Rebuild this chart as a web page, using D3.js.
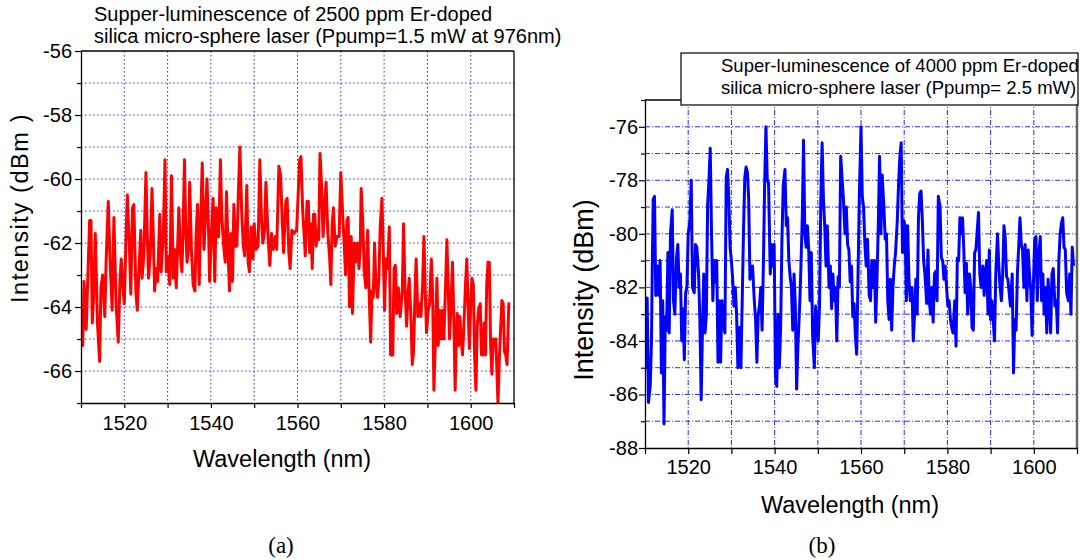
<!DOCTYPE html>
<html>
<head>
<meta charset="utf-8">
<script src="https://cdn.jsdelivr.net/npm/d3@7"></script>
<style>
  body { margin: 0; background: #fff; }
  svg { display: block; font-family: "Liberation Sans", Arial, sans-serif; }
</style>
</head>
<body>
<svg width="1080" height="560"></svg>
<script>
// ---- data ----

// (a) 2500 ppm sphere, wavelength (nm) and intensity (dBm)
var wavelengthA = [
  1510.0,1510.4,1510.7,1511.2,1511.5,1512.0,1512.3,1512.6,1512.9,1513.3,
  1513.8,1514.3,1514.6,1515.0,1515.5,1515.8,1516.3,1516.7,1517.2,1517.6,
  1518.1,1518.6,1519.0,1519.3,1519.6,1520.0,1520.4,1520.7,1521.2,1521.5,
  1521.9,1522.2,1522.7,1523.0,1523.4,1523.8,1524.1,1524.5,1525.0,1525.3,
  1525.6,1526.0,1526.4,1526.7,1527.0,1527.4,1527.7,1528.2,1528.5,1529.0,
  1529.4,1529.7,1530.0,1530.5,1530.9,1531.3,1531.6,1532.0,1532.3,1532.6,
  1533.0,1533.3,1533.6,1533.9,1534.2,1534.5,1534.8,1535.1,1535.5,1535.9,
  1536.3,1536.6,1536.9,1537.3,1537.7,1538.0,1538.4,1538.8,1539.1,1539.5,
  1539.7,1540.1,1540.5,1540.9,1541.2,1541.5,1541.8,1542.2,1542.5,1542.9,
  1543.3,1543.6,1544.0,1544.3,1544.6,1545.0,1545.3,1545.7,1546.0,1546.4,
  1546.7,1547.1,1547.5,1547.8,1548.3,1548.6,1548.9,1549.3,1549.7,1550.0,
  1550.4,1550.9,1551.3,1551.7,1552.0,1552.4,1552.7,1553.2,1553.6,1554.0,
  1554.4,1554.9,1555.2,1555.7,1556.1,1556.5,1556.8,1557.3,1557.6,1558.0,
  1558.3,1558.7,
  1559.2,1559.8,1560.5,1560.8,1561.2,1561.5,1561.8,1562.2,1562.5,1562.8,
  1563.1,1563.4,1563.7,1564.0,1564.3,1564.6,1564.9,1565.2,1565.6,1565.9,
  1566.2,1566.6,1567.0,1567.4,1567.7,1568.0,1568.3,1568.7,1569.1,1569.6,
  1570.0,1570.4,1570.8,1571.1,1571.4,1571.7,1572.0,1572.4,1572.7,1573.1,
  1573.4,1573.8,1574.2,1574.5,1574.7,1575.1,1575.4,1575.8,1576.2,1576.6,
  1576.9,1577.2,1577.5,1577.8,1578.1,1578.5,1578.8,1579.1,1579.5,1579.8,
  1580.1,1580.4,1580.8,1581.2,1581.5,1582.0,1582.3,1582.6,1582.9,1583.3,
  1583.7,1584.2,1584.5,1584.8,1585.2,1585.5,1585.8,1586.2,1586.5,1586.8,
  1587.2,1587.4,1587.8,1588.2,1588.5,1588.9,1589.2,1589.5,1589.8,1590.2,
  1590.5,1590.9,1591.2,1591.5,1591.8,1592.2,1592.5,1592.8,1593.2,1593.5,
  1593.8,1594.2,1594.5,1594.8,1595.1,1595.4,1595.8,1596.1,1596.4,1596.6,
  1596.9,1597.2,1597.5,1597.8,1598.1,1598.4,1598.8,1599.1,1599.5,1599.7,
  1600.0,1600.3,1600.6,1600.9,1601.2,1601.5,1601.8,1602.2,1602.5,1602.8,
  1603.1,1603.4,1603.7,1604.0,1604.3,1604.6,1604.9,1605.2,1605.5,1605.8,
  1606.3,1606.6,1606.9,1607.2,1607.5,1607.8,1608.1,1608.4,1608.8,1609.1
];
var intensityA = [
  -64.4,-65.2,-63.2,-64.7,-63.4,-61.3,-61.3,-64.5,-63.7,-61.7,
  -64.5,-65.7,-63.4,-63.0,-64.3,-62.6,-60.7,-62.5,-64.1,-61.2,
  -63.9,-65.1,-63.2,-62.5,-63.3,-63.9,-61.8,-60.5,-62.2,-63.6,
  -60.9,-60.8,-63.6,-64.1,-62.8,-61.6,-63.1,-62.4,-59.8,-61.7,
  -63.1,-62.4,-60.3,-61.8,-63.5,-62.8,-63.2,-61.1,-62.9,-61.8,
  -59.4,-62.9,-62.4,-63.3,-59.9,-63.1,-62.2,-63.4,-62.2,-60.9,
  -62.4,-62.9,-61.5,-59.4,-61.6,-62.6,-62.2,-60.1,-62.2,-63.3,
  -63.5,-61.7,-60.8,-63.3,-61.0,-59.5,-62.2,-61.0,-60.0,-61.8,
  -63.2,-61.8,-60.6,-63.2,-60.9,-61.8,-61.8,-59.4,-61.1,-62.0,
  -62.6,-60.4,-62.4,-63.5,-61.7,-63.2,-60.8,-62.1,-62.1,-60.2,
  -59.0,-61.0,-62.1,-62.4,-60.2,-62.6,-62.9,-61.5,-62.5,-61.4,
  -62.2,-62.1,-59.4,-61.3,-62.0,-61.6,-60.1,-61.8,-62.7,-61.7,
  -62.2,-61.8,-62.2,-59.6,-59.9,-61.4,-62.3,-60.7,-60.6,-62.3,
  -62.8,-61.6,
  -61.7,-61.6,-59.4,-59.3,-61.0,-61.7,-62.4,-60.7,-60.7,-62.3,
  -61.4,-62.8,-61.1,-61.1,-62.1,-61.6,-61.9,-59.2,-60.3,-61.8,
  -61.0,-60.1,-61.7,-62.4,-63.3,-61.4,-60.9,-62.1,-61.8,-61.8,
  -59.8,-61.0,-62.1,-63.0,-61.3,-61.2,-64.0,-61.8,-64.2,-62.0,
  -62.6,-62.0,-62.8,-62.1,-60.3,-61.4,-62.9,-63.4,-61.6,-63.8,
  -65.1,-63.5,-63.7,-62.0,-63.3,-63.7,-63.1,-61.5,-60.6,-62.2,
  -64.1,-62.5,-62.8,-61.5,-65.5,-65.5,-62.8,-62.7,-64.2,-63.4,
  -64.3,-63.5,-61.4,-63.3,-64.6,-63.7,-63.1,-64.3,-65.8,-65.4,
  -63.3,-62.5,-64.3,-63.9,-64.3,-63.3,-61.8,-63.5,-64.8,-64.1,
  -63.9,-62.5,-63.5,-66.6,-65.2,-63.1,-65.2,-64.1,-65.0,-64.1,
  -65.0,-63.3,-61.9,-63.3,-65.0,-64.1,-62.6,-64.4,-66.6,-65.4,
  -64.2,-65.2,-64.3,-65.0,-65.5,-64.7,-63.3,-62.5,-64.5,-65.3,
  -63.9,-63.1,-63.3,-65.5,-66.6,-64.6,-64.1,-63.9,-65.5,-65.5,
  -64.5,-65.5,-63.3,-62.6,-62.6,-65.2,-66.1,-65.0,-65.2,-65.0,
  -67.0,-65.7,-64.7,-63.8,-63.9,-65.4,-65.5,-65.8,-63.9,-63.9
];

// (b) 4000 ppm sphere
var wavelengthB = [
  1510.0,1510.2,1510.5,1510.8,1511.2,1511.5,1511.7,1511.9,1512.2,1512.5,
  1512.9,1513.2,1513.5,1513.8,1514.1,1514.4,1514.7,1515.0,1515.3,1515.6,
  1515.9,1516.3,1516.6,1516.9,1517.3,1517.6,1517.9,1518.2,1518.5,1518.8,
  1519.1,1519.4,1519.7,1520.0,1520.4,1520.7,1521.0,1521.4,1521.7,1522.0,
  1522.4,1522.7,1523.0,1523.3,1523.6,1523.9,1524.2,1524.5,1524.8,1525.1,
  1525.4,1525.7,1526.0,1526.3,1526.6,1526.9,1527.2,1527.5,1527.8,1528.1,
  1528.5,1528.8,1529.1,1529.4,1529.7,1530.0,1530.3,1530.6,1530.9,1531.2,
  1531.5,1531.9,1532.2,1532.5,1532.8,1533.1,1533.4,1533.7,1534.0,1534.3,
  1534.6,1534.9,1535.3,1535.6,1535.9,1536.2,1536.5,1536.8,1537.1,1537.4,
  1537.7,1538.0,1538.3,1538.6,1539.0,1539.3,1539.6,1539.9,1540.2,1540.5,
  1540.8,1541.1,1541.4,1541.7,1542.0,1542.4,1542.7,1543.0,1543.3,1543.6,
  1543.9,1544.2,1544.5,1544.8,1545.1,1545.4,1545.8,1546.1,1546.4,1546.7,
  1547.0,1547.3,1547.6,1547.9,1548.2,1548.5,1548.8,1549.2,1549.5,1549.8,
  1550.1,1550.4,1550.7,1551.0,1551.3,1551.6,1551.9,1552.2,1552.6,1552.9,
  1553.2,1553.5,1553.8,1554.1,1554.4,1554.7,1555.0,1555.3,1555.6,1555.9,
  1556.3,1556.6,1556.9,1557.2,1557.5,1557.8,1558.1,1558.4,1558.7,1559.0,
  1559.3,1559.6,1560.0,1560.3,1560.6,1560.9,1561.2,1561.5,1561.9,1562.2,
  1562.5,1562.8,1563.1,1563.4,1563.7,1564.0,1564.3,1564.6,1564.9,1565.3,
  1565.6,1565.9,1566.2,1566.5,1566.8,1567.1,1567.4,1567.7,1568.0,1568.4,
  1568.7,1569.0,1569.3,1569.6,1569.9,1570.2,1570.5,1570.8,1571.1,1571.4,
  1571.8,1572.1,1572.4,1572.7,1573.0,1573.3,1573.6,1573.9,1574.2,1574.5,
  1574.8,1575.2,1575.5,1575.8,1576.1,1576.4,1576.7,1577.0,1577.3,1577.6,
  1577.9,1578.3,1578.6,1578.9,1579.2,1579.5,1579.8,1580.1,1580.4,1580.7,
  1581.0,1581.3,1581.7,1582.0,1582.3,1582.6,1582.9,1583.2,1583.5,1583.8,
  1584.1,1584.4,1584.7,1585.1,1585.4,1585.7,1586.0,1586.3,1586.6,1586.9,
  1587.2,1587.5,1587.8,1588.2,1588.5,1588.8,1589.1,1589.4,1589.7,1590.0,
  1590.3,1590.6,1590.9,1591.2,1591.6,1591.9,1592.2,1592.5,1592.8,1593.1,
  1593.4,1593.7,1594.0,1594.3,1594.6,1595.0,1595.3,1595.6,1595.9,1596.2,
  1596.5,1596.8,1597.1,1597.4,1597.7,1598.0,1598.4,1598.7,1599.0,1599.3,
  1599.6,1599.9,1600.2,1600.5,1600.8,1601.1,1601.5,1601.8,1602.1,1602.4,
  1602.7,1603.0,1603.3,1603.6,1603.9,1604.2,1604.5,1604.9,1605.2,1605.5,
  1605.8,1606.1,1606.4,1606.7,1607.0,1607.3,1607.6,1608.0,1608.3,1608.6,
  1608.9,1609.2
];
var intensityB = [
  -84.2,-85.0,-82.4,-86.3,-85.7,-84.0,-81.0,-78.7,-78.6,-82.3,
  -81.2,-82.3,-81.0,-85.2,-82.5,-87.1,-83.1,-83.6,-80.7,-83.7,
  -80.0,-79.1,-82.5,-83.0,-80.9,-80.4,-82.0,-81.5,-84.0,-82.8,
  -84.7,-82.2,-82.0,-80.0,-79.5,-78.0,-82.0,-82.2,-80.4,-80.5,
  -81.5,-83.2,-86.2,-83.6,-81.5,-83.7,-83.0,-78.9,-78.0,-76.8,
  -80.0,-82.5,-81.0,-81.8,-81.0,-84.8,-82.5,-84.8,-82.5,-83.3,
  -83.7,-77.9,-77.6,-78.7,-80.5,-81.0,-81.7,-82.7,-82.0,-83.0,
  -85.0,-83.5,-85.0,-82.5,-79.9,-77.9,-77.5,-77.7,-78.7,-81.7,
  -81.5,-81.2,-82.5,-83.2,-84.8,-83.0,-82.7,-82.0,-83.6,-81.2,
  -78.1,-76.0,-78.0,-78.1,-81.5,-80.4,-81.2,-80.4,-85.3,-85.7,
  -83.0,-85.0,-83.5,-80.2,-78.2,-77.6,-79.7,-79.4,-81.0,-81.6,
  -82.0,-83.6,-81.5,-82.7,-85.8,-84.2,-82.7,-81.2,-79.4,-76.5,
  -80.0,-80.5,-79.7,-80.6,-82.5,-80.7,-83.8,-85.0,-82.7,-83.2,
  -84.0,-82.7,-78.7,-76.6,-78.7,-79.7,-81.2,-79.7,-82.0,-81.2,
  -82.8,-81.5,-82.5,-82.0,-84.0,-81.6,-82.0,-77.1,-77.9,-78.6,
  -80.0,-79.0,-80.4,-80.6,-81.8,-81.2,-83.1,-82.6,-83.8,-84.5,
  -81.7,-78.7,-76.0,-78.6,-79.0,-80.4,-81.2,-80.2,-82.3,-82.5,
  -81.0,-82.0,-81.0,-83.3,-81.7,-79.7,-77.1,-80.0,-77.8,-79.0,
  -80.2,-80.0,-82.5,-83.2,-81.7,-83.6,-82.0,-81.2,-80.7,-79.5,
  -78.1,-77.1,-76.6,-80.7,-79.5,-79.7,-82.5,-79.7,-81.7,-82.5,
  -82.0,-84.0,-83.0,-81.7,-83.0,-79.4,-78.5,-78.4,-79.5,-81.0,
  -81.5,-82.6,-80.6,-82.5,-83.0,-82.0,-83.3,-81.5,-81.4,-82.5,
  -78.6,-79.0,-80.9,-81.0,-81.7,-81.2,-82.0,-82.7,-82.5,-83.2,
  -83.5,-83.7,-82.5,-84.2,-80.9,-81.0,-79.4,-80.0,-79.4,-80.6,
  -82.2,-81.1,-83.0,-81.5,-82.0,-83.5,-83.6,-80.7,-80.6,-79.9,
  -79.2,-81.5,-82.0,-81.2,-82.3,-81.5,-81.0,-83.0,-80.6,-83.2,
  -82.5,-83.2,-84.0,-81.5,-80.0,-81.2,-82.0,-82.5,-81.5,-79.7,
  -80.2,-81.6,-81.7,-82.2,-82.7,-81.5,-85.2,-83.2,-83.6,-81.5,
  -80.5,-79.4,-80.4,-80.6,-82.0,-80.4,-82.5,-80.6,-81.5,-82.1,
  -83.8,-82.0,-80.2,-80.1,-82.5,-80.9,-80.1,-82.5,-81.5,-83.0,
  -82.0,-83.7,-81.7,-82.5,-83.7,-81.5,-81.3,-82.7,-82.5,-83.7,
  -81.0,-80.0,-79.6,-79.4,-80.5,-80.6,-82.2,-82.5,-81.5,-83.0,
  -80.5,-81.2
];

// axis ticks and labels
var xTicks = [1510, 1520, 1530, 1540, 1550, 1560, 1570, 1580, 1590, 1600, 1610];
var xLabels = [1520, 1540, 1560, 1580, 1600];
var yTicksA = [-67, -66, -65, -64, -63, -62, -61, -60, -59, -58, -57, -56];
var yLabelsA = [-66, -64, -62, -60, -58, -56];
var yTicksB = [-88, -87, -86, -85, -84, -83, -82, -81, -80, -79, -78, -77, -76, -75];
var yLabelsB = [-88, -86, -84, -82, -80, -78, -76];

var titleA = ["Supper-luminescence of 2500 ppm Er-doped",
              "silica micro-sphere laser (Ppump=1.5 mW at 976nm)"];
var titleB = ["Super-luminescence of 4000 ppm Er-doped",
              "silica micro-sphere laser (Ppump= 2.5 mW)"];

const svg = d3.select("svg");

function drawPanel(p) {
  const x = d3.scaleLinear().domain([1510, 1610]).range([p.left, p.right]);
  const y = d3.scaleLinear().domain(p.yDomain).range([p.bottom, p.top]);
  const g = svg.append("g");

  // clip for the trace
  svg.append("clipPath").attr("id", p.id + "-clip")
    .append("rect")
    .attr("x", p.left).attr("y", p.top - 1)
    .attr("width", p.right - p.left).attr("height", p.bottom - p.top + 2);

  // grid lines
  const grid = g.append("g")
    .attr("stroke", p.gridColor)
    .attr("stroke-width", 1)
    .attr("stroke-dasharray", p.gridDash);
  grid.selectAll(".gx")
    .data(xTicks.filter((d) => d > 1510 && d < 1610))
    .join("line")
    .attr("x1", (d) => x(d)).attr("x2", (d) => x(d))
    .attr("y1", p.top).attr("y2", p.bottom);
  grid.selectAll(".gy")
    .data(p.yTicks.filter((d) => d > p.yDomain[0] && d < p.yDomain[1]))
    .join("line")
    .attr("x1", p.left).attr("x2", p.right)
    .attr("y1", (d) => y(d)).attr("y2", (d) => y(d));

  // trace
  const line = d3.line().x((d) => x(d[0])).y((d) => y(d[1]));
  g.append("path")
    .datum(d3.zip(p.wl, p.val))
    .attr("clip-path", "url(#" + p.id + "-clip)")
    .attr("fill", "none")
    .attr("stroke", p.color)
    .attr("stroke-width", 3)
    .attr("stroke-linejoin", "round")
    .attr("d", line);

  // frame (top + right)
  g.append("line").attr("x1", p.left).attr("x2", p.right)
    .attr("y1", p.top).attr("y2", p.top)
    .attr("stroke", "#000").attr("stroke-width", 1.3);
  g.append("line").attr("x1", p.right).attr("x2", p.right)
    .attr("y1", p.top).attr("y2", p.bottom)
    .attr("stroke", p.rightColor).attr("stroke-width", p.rightWidth);

  // axes
  const xAxis = d3.axisBottom(x)
    .tickValues(xTicks)
    .tickSizeInner(p.xTickSize).tickSizeOuter(0)
    .tickPadding(p.xPad)
    .tickFormat((d) => (xLabels.includes(d) ? String(d) : ""));
  const ax = g.append("g")
    .attr("transform", `translate(0,${p.bottom})`)
    .call(xAxis);

  const labels = p.yLabels;
  const yAxis = d3.axisLeft(y)
    .tickValues(p.yTicks)
    .tickSizeInner(6).tickSizeOuter(0)
    .tickPadding(p.yPad)
    .tickFormat((d) => (labels.includes(d) ? String(d) : ""));
  const ay = g.append("g")
    .attr("transform", `translate(${p.left},0)`)
    .call(yAxis);
  ay.selectAll(".tick")
    .filter((d) => !labels.includes(d))
    .select("line").attr("x2", -4);

  [ax, ay].forEach((a) => {
    a.select(".domain").attr("stroke", "#000").attr("stroke-width", 1.3);
    a.selectAll(".tick line").attr("stroke", "#000").attr("stroke-width", 1.2);
    a.selectAll(".tick text")
      .attr("fill", "#000")
      .style("font-size", "20px")
      .style("font-family", "'Liberation Sans', Arial, sans-serif");
  });

  // axis titles
  g.append("text")
    .attr("x", p.xTitle[0]).attr("y", p.xTitle[1])
    .attr("text-anchor", "middle")
    .style("font-size", "23.5px")
    .text("Wavelength (nm)");
  g.append("text")
    .attr("transform", `translate(${p.yTitle[0]},${p.yTitle[1]}) rotate(-90)`)
    .attr("text-anchor", "middle")
    .style("font-size", p.yTitleSize)
    .style("letter-spacing", p.yTitleSpacing)
    .text(p.yTitleText);

  // caption under the panel
  g.append("text")
    .attr("x", p.caption[0]).attr("y", p.caption[1])
    .attr("text-anchor", "middle")
    .style("font-family", "'Liberation Serif', 'DejaVu Serif', serif")
    .style("font-size", "23px")
    .text(p.captionText);

  return g;
}

// panel (a)
const gA = drawPanel({
  id: "pa", left: 81, right: 514, top: 51, bottom: 403,
  yDomain: [-67, -56], yTicks: yTicksA, yLabels: yLabelsA,
  wl: wavelengthA, val: intensityA, color: "#ff0000",
  gridColor: "#2a2aff", gridDash: "1.5,2.5",
  rightColor: "#000", rightWidth: 1.3,
  xTickSize: 5, xPad: 8, yPad: 3,
  xTitle: [282, 467], yTitle: [28, 208],
  yTitleText: "Intensity (dBm )", yTitleSize: "23.5px", yTitleSpacing: "1.6px",
  caption: [281, 553], captionText: "(a)"
});
gA.append("g").selectAll("text").data(titleA).join("text")
  .attr("x", 94).attr("y", (d, i) => 21 + i * 22)
  .style("font-size", "20px")
  .text((d) => d);

// panel (b)
const gB = drawPanel({
  id: "pb", left: 645, right: 1077, top: 100, bottom: 448,
  yDomain: [-88, -75], yTicks: yTicksB, yLabels: yLabelsB,
  wl: wavelengthB, val: intensityB, color: "#0000ff",
  gridColor: "#2a2aff", gridDash: "5,2,1,2",
  rightColor: "#666", rightWidth: 2.5,
  xTickSize: 6, xPad: 6, yPad: 1,
  xTitle: [850, 513], yTitle: [593, 290],
  yTitleText: "Intensity (dBm)", yTitleSize: "27px", yTitleSpacing: "0px",
  caption: [822, 553], captionText: "(b)"
});
// title box overlapping the top of panel (b)
gB.append("rect")
  .attr("x", 681).attr("y", 53).attr("width", 397).attr("height", 52)
  .attr("fill", "#fff").attr("stroke", "#000").attr("stroke-width", 1.2);
gB.append("g").selectAll("text").data(titleB).join("text")
  .attr("x", 721).attr("y", (d, i) => 72 + i * 21.5)
  .style("font-size", "18.5px")
  .text((d) => d);
</script>
</body>
</html>
